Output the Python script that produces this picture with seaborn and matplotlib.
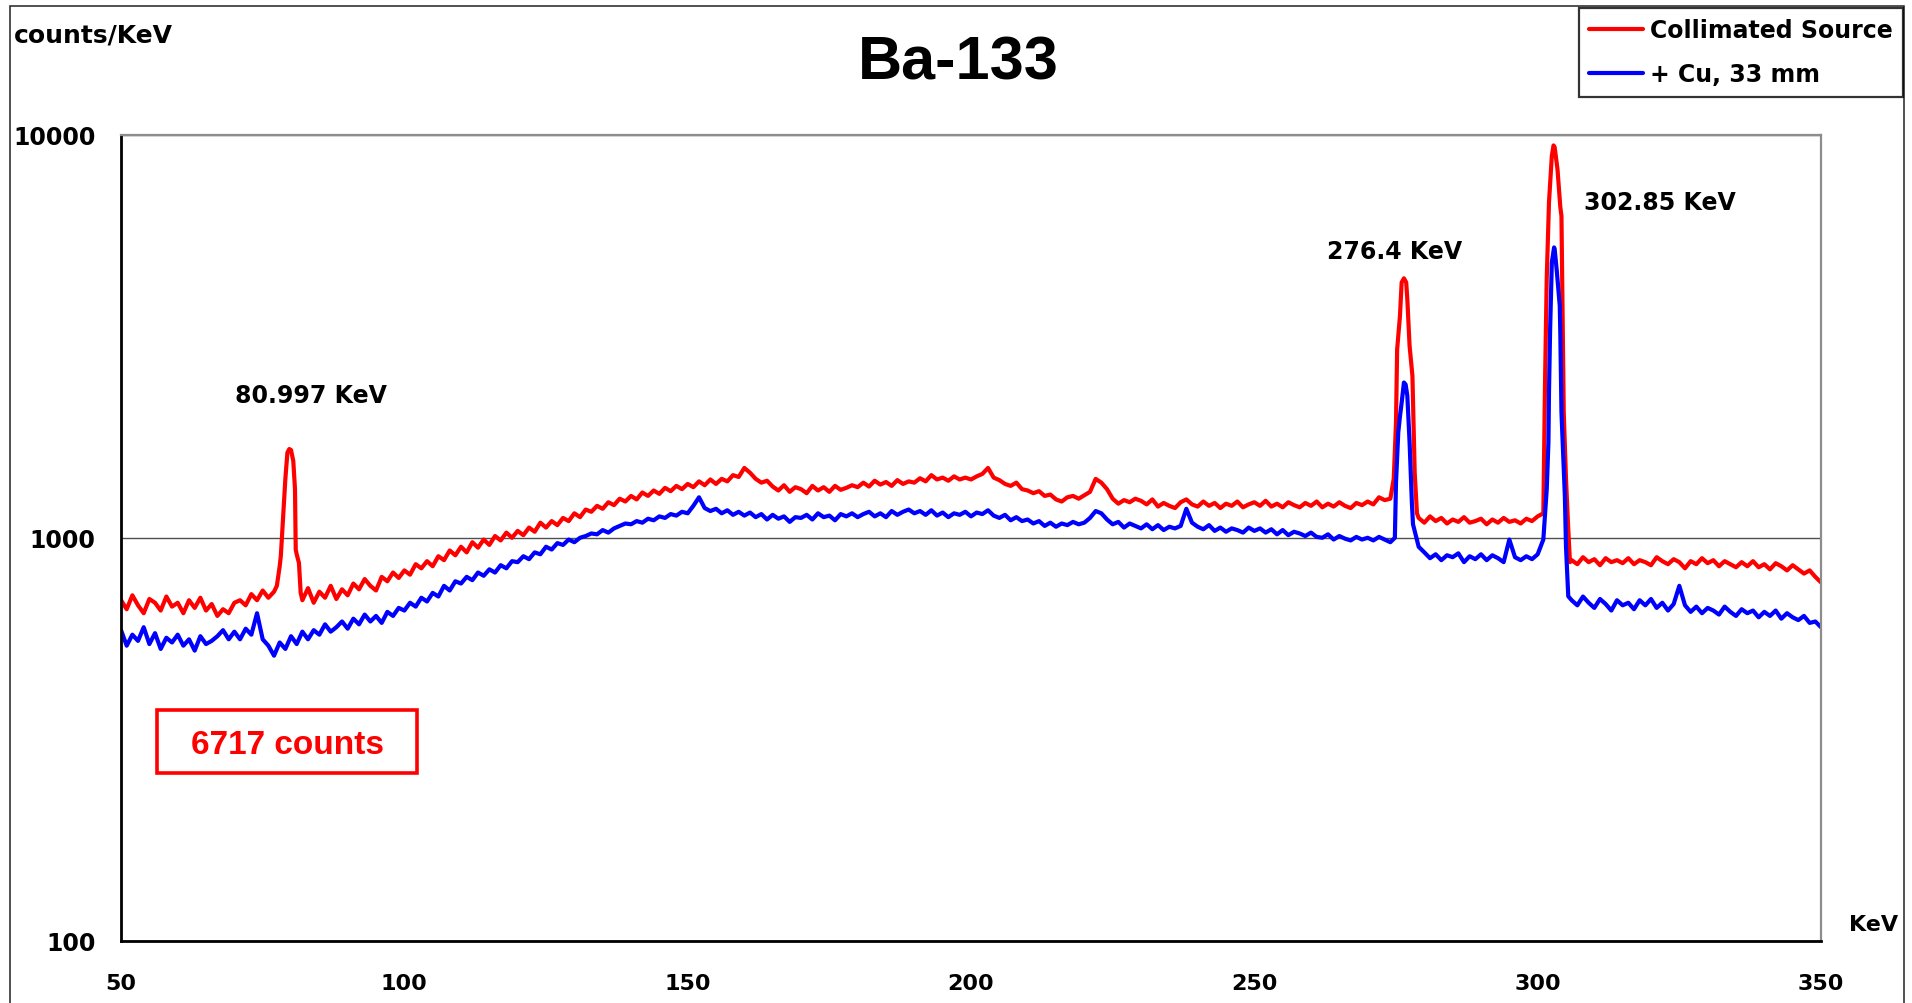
import numpy as np
import pandas as pd
import matplotlib
matplotlib.use("Agg")
import matplotlib.pyplot as plt
from matplotlib.patches import Rectangle
from matplotlib.ticker import LogLocator, NullFormatter
import seaborn as sns

# Ba-133 spectrum, 1 keV channels from 50 to 350 keV (counts/keV)
red_bg = [
    700, 665, 720, 680, 650, 705, 690, 660, 715, 675,
    690, 650, 700, 670, 710, 660, 685, 640, 665, 650,
    690, 700, 680, 725, 700, 740, 710, 735, 850, 1400,
    1650, 910, 700, 750, 690, 735, 710, 760, 705, 745,
    720, 770, 745, 790, 760, 740, 800, 780, 820, 795,
    830, 810, 860, 840, 875, 850, 900, 880, 930, 905,
    950, 920, 975, 945, 990, 960, 1010, 985, 1030, 1000,
    1040, 1015, 1060, 1035, 1090, 1060, 1100, 1075, 1120, 1100,
    1150, 1125, 1175, 1160, 1200, 1180, 1225, 1205, 1250, 1230,
    1270, 1245, 1295, 1270, 1310, 1285, 1330, 1305, 1345, 1320,
    1360, 1335, 1380, 1350, 1395, 1360, 1400, 1380, 1430, 1415,
    1490, 1450, 1400, 1370, 1385, 1340, 1310, 1350, 1300, 1335,
    1320, 1290, 1345, 1310, 1335, 1300, 1345, 1315, 1330, 1350,
    1335, 1370, 1340, 1385, 1355, 1375, 1345, 1390, 1360, 1380,
    1370, 1405, 1380, 1430, 1395, 1410, 1385, 1420, 1395, 1410,
    1395, 1420, 1440, 1490, 1410, 1390, 1360, 1345, 1370, 1320,
    1310, 1290, 1305, 1270, 1280, 1245, 1230, 1260, 1270, 1250,
    1275, 1300, 1400, 1370, 1320, 1250, 1215, 1240, 1225, 1250,
    1235, 1210, 1245, 1195, 1220, 1200, 1185, 1225, 1245, 1210,
    1195, 1230, 1200, 1220, 1185, 1215, 1200, 1230, 1190, 1210,
    1225, 1200, 1235, 1195, 1215, 1190, 1225, 1205, 1190, 1220,
    1200, 1230, 1190, 1215, 1195, 1225, 1200, 1185, 1220, 1205,
    1230, 1210, 1260, 1240, 1250, 1930, 4300, 3900, 2200, 1120,
    1090, 1130, 1100, 1120, 1085, 1110, 1095, 1125, 1090, 1100,
    1115, 1080, 1110, 1090, 1120, 1095, 1105, 1085, 1115, 1100,
    1130, 1150, 6800, 9300, 6600, 1400, 880, 860, 895, 870,
    885, 855, 890, 870, 880, 865, 890, 860, 880, 870,
    855, 895, 875, 860, 885, 870, 840, 875, 860, 890,
    865, 880, 850, 875, 860, 845, 870, 850, 875, 845,
    860, 835, 865, 850, 830, 855, 835, 815, 830, 800,
    775,
]

blue_bg = [
    590, 540, 575, 555, 600, 545, 580, 530, 565, 550,
    575, 540, 560, 525, 570, 545, 555, 570, 590, 560,
    585, 560, 595, 575, 650, 560, 540, 510, 550, 530,
    570, 545, 585, 560, 590, 575, 610, 585, 600, 620,
    595, 630, 610, 645, 620, 640, 615, 655, 640, 670,
    660, 690, 675, 710, 695, 730, 715, 760, 740, 780,
    770, 800, 785, 820, 805, 835, 820, 855, 840, 875,
    870, 900, 885, 920, 910, 950, 935, 970, 960, 990,
    975, 1000, 1010, 1025, 1020, 1045, 1030, 1055, 1070, 1085,
    1080, 1100, 1090, 1115, 1105, 1130, 1120, 1145, 1135, 1160,
    1150, 1200, 1260, 1185, 1165, 1180, 1150, 1170, 1140, 1160,
    1135, 1155, 1125, 1145, 1110, 1140, 1115, 1130, 1095, 1125,
    1120, 1140, 1110, 1150, 1125, 1135, 1105, 1145, 1130, 1150,
    1125, 1145, 1160, 1130, 1150, 1125, 1165, 1140, 1160, 1175,
    1150, 1165, 1140, 1170, 1135, 1155, 1125, 1150, 1140, 1160,
    1130, 1155, 1145, 1170, 1135, 1120, 1140, 1105, 1125, 1100,
    1110, 1085, 1100, 1070, 1090, 1065, 1085, 1075, 1095, 1080,
    1090, 1120, 1165, 1150, 1110, 1080, 1095, 1060, 1085, 1070,
    1055, 1080, 1050, 1075, 1045, 1065, 1055, 1070, 1180, 1090,
    1065, 1050, 1075, 1040, 1060, 1035, 1055, 1045, 1030, 1060,
    1040, 1055, 1030, 1050, 1020, 1045, 1015, 1035, 1025, 1010,
    1030, 1005, 1000, 1020, 990, 1010, 995, 985, 1005, 990,
    1000, 985, 1005, 990, 975, 1371, 2164, 2250, 1080, 950,
    920, 890, 910, 880, 905, 895, 915, 870, 900, 885,
    910, 880, 905, 890, 870, 990, 895, 880, 900, 885,
    910, 990, 2300, 5200, 3200, 950, 700, 680, 715, 690,
    670, 705, 685, 660, 700, 680, 690, 665, 700, 680,
    705, 670, 690, 660, 685, 760, 680, 655, 675, 650,
    670, 660, 645, 675, 655, 640, 665, 650, 660, 635,
    655, 640, 660, 630, 650, 635, 625, 640, 615, 620,
    600,
]

# extra samples inside the photopeaks
red_pk_kev = [77.5, 78.2, 78.65, 79.36, 79.7, 80.4, 80.7, 80.83, 81.4, 81.7,
              274.6, 275.2, 275.7, 276.4, 276.8, 277.4, 277.9, 278.3, 278.7,
              301.3, 301.6, 302.5, 302.8, 303.5, 304.2, 304.6, 305.4, 305.7]
red_pk_counts = [760, 901, 1153, 1626, 1660, 1550, 1320, 935, 866, 731,
                 1400, 2930, 3550, 4400, 4300, 2990, 2520, 1450, 1150,
                 2430, 4400, 8850, 9400, 8200, 6280, 2050, 1050, 870]

blue_pk_kev = [274.8, 275.4, 275.7, 276.4, 276.7, 277.4, 277.8,
               301.6, 301.9, 302.2, 302.5, 302.9, 303.4, 303.9, 304.2, 304.8, 305.4]
blue_pk_counts = [1000, 1824, 2000, 2427, 2400, 1722, 1222,
                  1318, 1722, 3289, 4817, 5250, 4550, 3760, 2047, 1270, 716]

series_names = ["Collimated Source", "+ Cu, 33 mm"]
series_colors = ["#ff0000", "#0000ff"]

peak_labels = ["80.997 KeV", "276.4 KeV", "302.85 KeV"]
peak_label_pos = [(83.6, 2250), (274.8, 5130), (321.6, 6780)]

x_ticks = [50, 100, 150, 200, 250, 300, 350]
y_ticks = [100, 1000, 10000]

assert len(red_bg) == 301 and len(blue_bg) == 301

channels = np.arange(50, 351)


def spectrum(bg, pk_kev, pk_counts, name):
    kev = np.concatenate([channels, pk_kev])
    cnt = np.concatenate([bg, pk_counts])
    order = np.argsort(kev, kind="stable")
    return pd.DataFrame({"kev": kev[order], "counts": cnt[order], "series": name})


df = pd.concat([
    spectrum(red_bg, red_pk_kev, red_pk_counts, series_names[0]),
    spectrum(blue_bg, blue_pk_kev, blue_pk_counts, series_names[1]),
], ignore_index=True)

sns.set_style("white")
plt.rcParams["font.family"] = ["DejaVu Sans"]
plt.rcParams["font.weight"] = "bold"
plt.rcParams["text.color"] = "black"
plt.rcParams["xtick.color"] = "black"
plt.rcParams["ytick.color"] = "black"

fig = plt.figure(figsize=(19.12, 10.035), dpi=100)
ax = fig.add_axes([0.0633, 0.0618, 0.8891, 0.8036])

sns.lineplot(data=df, x="kev", y="counts", hue="series", hue_order=series_names,
             palette=dict(zip(series_names, series_colors)), estimator=None,
             errorbar=None, linewidth=3.0, ax=ax)

ax.set_yscale("log")
ax.set_xlim(50, 350)
ax.set_ylim(100, 10000)
ax.set_xticks(x_ticks, labels=[str(t) for t in x_ticks])
ax.set_yticks(y_ticks, labels=[str(t) for t in y_ticks])
ax.yaxis.set_minor_locator(LogLocator(base=10, subs=np.arange(2, 10)))
ax.yaxis.set_minor_formatter(NullFormatter())
ax.set_xlabel("")
ax.set_ylabel("")

ax.tick_params(axis="both", which="major", direction="inout", length=13,
               width=1.3, color="black", labelcolor="black")
ax.tick_params(axis="y", which="minor", direction="inout", length=9.5,
               width=1.3, color="black")
ax.tick_params(axis="y", labelsize=17, pad=12)
ax.tick_params(axis="x", labelsize=16, pad=17)

ax.grid(False)
ax.yaxis.grid(True, which="major", color="#505050", linewidth=1)
for side in ["top", "right"]:
    ax.spines[side].set_color("#8c8c8c")
    ax.spines[side].set_linewidth(1.6)
for side in ["left", "bottom"]:
    ax.spines[side].set_color("black")
    ax.spines[side].set_linewidth(2.0)

# legend in the top right corner
handles, labels = ax.get_legend_handles_labels()
ax.get_legend().remove()
leg = fig.legend(handles, labels, loc="upper right",
                 bbox_to_anchor=(1903 / 1912, 1 - 8 / 1003), fontsize=17,
                 frameon=True, fancybox=False, edgecolor="black",
                 handlelength=2.25, handletextpad=0.3, borderpad=0.45,
                 labelspacing=0.85, borderaxespad=0)
leg.get_frame().set_linewidth(1.6)
for t in leg.get_texts():
    t.set_color("black")

# peak labels
for text, (px, py) in zip(peak_labels, peak_label_pos):
    ax.text(px, py, text, fontsize=17, ha="center", va="center", color="black")

# boxed count
ax.add_patch(Rectangle((56.3, 261), 102.2 - 56.3, 375 - 261,
                       fill=False, edgecolor="#ff0000", linewidth=2.6))
ax.text(79.3, 306, "6717 counts", color="#ff0000", fontsize=24,
        family="Liberation Sans", ha="center", va="center")

fig.text(958 / 1912, 1 - 64 / 1003, "Ba-133", fontsize=44,
         family="Liberation Sans", ha="center", va="center", color="black")
fig.text(14 / 1912, 1 - 35 / 1003, "counts/KeV", fontsize=18,
         ha="left", va="center", color="black")
fig.text(1898 / 1912, 1 - 925 / 1003, "KeV", fontsize=16,
         ha="right", va="center", color="black")

# outer chart border
fig.add_artist(Rectangle((9.5 / 1912, -0.05), (1903.5 - 9.5) / 1912, 1.05 - 6.5 / 1003,
                         transform=fig.transFigure, fill=False,
                         edgecolor="#222222", linewidth=1.1))

fig.savefig("out.png", dpi=100)
